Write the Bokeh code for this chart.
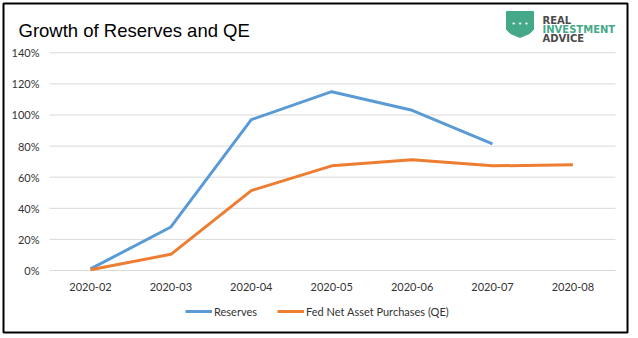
from bokeh.plotting import figure
from bokeh.models import Legend, LegendItem, Range1d
from bokeh.core.properties import value
from bokeh.embed import file_html
from bokeh.resources import INLINE

months = ["2020-02", "2020-03", "2020-04", "2020-05", "2020-06", "2020-07", "2020-08"]
reserves = [0.01, 0.28, 0.97, 1.15, 1.03, 0.815]
qe = [0.005, 0.104, 0.514, 0.673, 0.712, 0.673, 0.68]
y_ticks = [0, 0.2, 0.4, 0.6, 0.8, 1.0, 1.2, 1.4]
y_tick_labels = ["0%", "20%", "40%", "60%", "80%", "100%", "120%", "140%"]
title_text = "Growth of Reserves and QE"
logo_lines = ["REAL", "INVESTMENT", "ADVICE"]
series_names = ["Reserves", "Fed Net Asset Purchases (QE)"]

BLUE = "#5b9bd5"
ORANGE = "#ed7d31"
GREEN = "#45a888"
TXT = "#333333"

idx_all = list(range(len(months)))
idx_res = idx_all[:len(reserves)]

# the frame covers the whole canvas; data ranges are chosen so that the
# plotting area sits where the reference has it
p = figure(width=638, height=338, x_range=Range1d(-1.1194, 6.8159),
           y_range=Range1d(-0.4373, 1.7363), output_backend="svg",
           toolbar_location=None, min_border=0,
           x_axis_location=None, y_axis_location=None)
p.extra_x_ranges = {"px": Range1d(0, 638)}
p.extra_y_ranges = {"py": Range1d(338, 0)}
p.outline_line_color = None
p.grid.visible = False
p.background_fill_color = "white"

# horizontal gridlines
p.segment(x0=[49] * len(y_ticks), x1=[615] * len(y_ticks), y0=y_ticks, y1=y_ticks,
          x_range_name="px", line_color="#d9d9d9", line_width=1)
# y tick labels
p.text(x=[39] * len(y_ticks), y=y_ticks, text=y_tick_labels, x_range_name="px",
       text_font=value("Lato"), text_font_size="11px", text_color=TXT,
       text_align="right", text_baseline="middle")
# x tick labels
p.text(x=idx_all, y=[286] * len(months), text=months, y_range_name="py",
       text_font=value("Lato"), text_font_size="11px", text_color=TXT,
       text_align="center", text_baseline="middle")

r1 = p.line(idx_res, reserves, line_color=BLUE, line_width=3)
r2 = p.line(idx_all, qe, line_color=ORANGE, line_width=3)

legend = Legend(items=[LegendItem(label=series_names[0], renderers=[r1]),
                       LegendItem(label=series_names[1], renderers=[r2])],
                orientation="horizontal", location=(185, 19),
                border_line_color=None, background_fill_alpha=0,
                label_text_font="Lato", label_text_font_size="11px",
                label_text_color=TXT, glyph_width=27, glyph_height=16,
                spacing=20, label_standoff=2, padding=0, margin=0)
p.add_layout(legend, "center")

# title
p.text(x=[18], y=[29.5], text=[title_text], x_range_name="px", y_range_name="py",
       text_font=value("Liberation Sans"), text_font_size="18.5px",
       text_color="#000000", text_baseline="alphabetic")

# logo
p.patch(x=[506, 533, 533, 529, 519.5, 510, 506], y=[11, 11, 29, 33, 37, 33, 29],
        x_range_name="px", y_range_name="py", fill_color=GREEN, line_color=GREEN)
p.text(x=[519.5], y=[23.5], text=["• • •"], x_range_name="px", y_range_name="py",
       text_font=value("DejaVu Sans"), text_font_size="7px", text_color="white",
       text_align="center", text_baseline="middle")
p.text(x=[542, 542, 542], y=[19.5, 28.5, 37.5], text=logo_lines,
       x_range_name="px", y_range_name="py", text_font=value("DejaVu Sans"),
       text_font_size="10px", text_font_style="bold",
       text_color=["#4a4a4a", GREEN, "#4a4a4a"], text_baseline="alphabetic")

# outer border
p.quad(left=[3], right=[627], top=[3], bottom=[332], x_range_name="px",
       y_range_name="py", fill_alpha=0, line_color="black", line_width=2)

open("out.html", "w").write(file_html(p, INLINE))
